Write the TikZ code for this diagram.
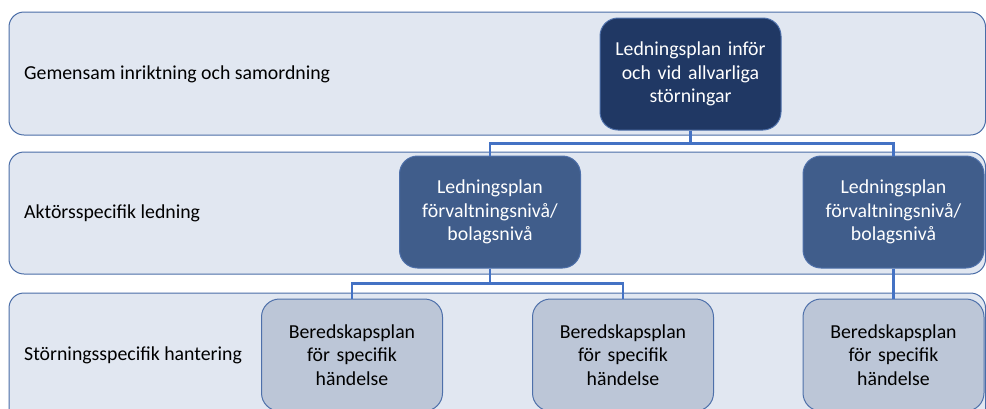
\documentclass[tikz,border=0pt]{standalone}
\usepackage{fontspec}
\setmainfont{Carlito}
\definecolor{bandfill}{HTML}{E1E7F1}
\definecolor{bandline}{HTML}{4A6DA7}
\definecolor{topfill}{HTML}{203864}
\definecolor{midfill}{HTML}{405D8B}
\definecolor{botfill}{HTML}{BCC6D7}
\definecolor{boxline}{HTML}{4E70AA}
\definecolor{linkblue}{HTML}{4472C4}

\begin{document}
\begin{tikzpicture}[x=1pt, y=-1pt,
    band/.style={draw=bandline, fill=bandfill, line width=1pt, rounded corners=15pt},
    plan/.style={draw=boxline, line width=1pt, rounded corners=18pt, align=center,
        minimum width=181pt, text width=172pt, inner sep=0pt,
        font=\fontsize{19.8}{23.5}\selectfont},
    topplan/.style={plan, fill=topfill, text=white, minimum height=112pt},
    midplan/.style={plan, fill=midfill, text=white, minimum height=112pt},
    botplan/.style={plan, fill=botfill, text=black, minimum height=112pt},
    level/.style={anchor=west, inner sep=0pt, font=\fontsize{19.8}{23.5}\selectfont},
    link/.style={draw=linkblue, line width=2.6pt}]
        \useasboundingbox (0,0) rectangle (986,408);
        \clip (0,0) rectangle (986,408);

        \draw[band] (9,12) rectangle (985.5,135);
        \draw[band] (9,152) rectangle (985.5,274);
        \draw[band] (9,293) rectangle (985.5,440);

        \node[level] (lvlA) at (24,74) {Gemensam inriktning och samordning};
        \node[level] (lvlB) at (24,213) {Aktörsspecifik ledning};
        \node[level] (lvlC) at (24,355) {Störningsspecifik hantering};

        \node[topplan] (top) at (690.5,74) {Ledningsplan inför\\och vid allvarliga\\störningar};
        \node[midplan] (midL) at (490,212) {Ledningsplan\\förvaltningsnivå/\\bolagsnivå};
        \node[midplan] (midR) at (893.5,212) {Ledningsplan\\förvaltningsnivå/\\bolagsnivå};
        \node[botplan] (botA) at (352,355) {Beredskapsplan\\för specifik\\händelse};
        \node[botplan] (botB) at (623,355) {Beredskapsplan\\för specifik\\händelse};
        \node[botplan] (botC) at (893.5,355) {Beredskapsplan\\för specifik\\händelse};

        \draw[link] (top.south) -- ++(0,13) -| (midL.north);
        \draw[link] (top.south) -- ++(0,13) -| (midR.north);
        \draw[link] (midL.south) -- ++(0,15) -| (botA.north);
        \draw[link] (midL.south) -- ++(0,15) -| (botB.north);
        \draw[link] (midR.south) -- (botC.north);
\end{tikzpicture}
\end{document}
